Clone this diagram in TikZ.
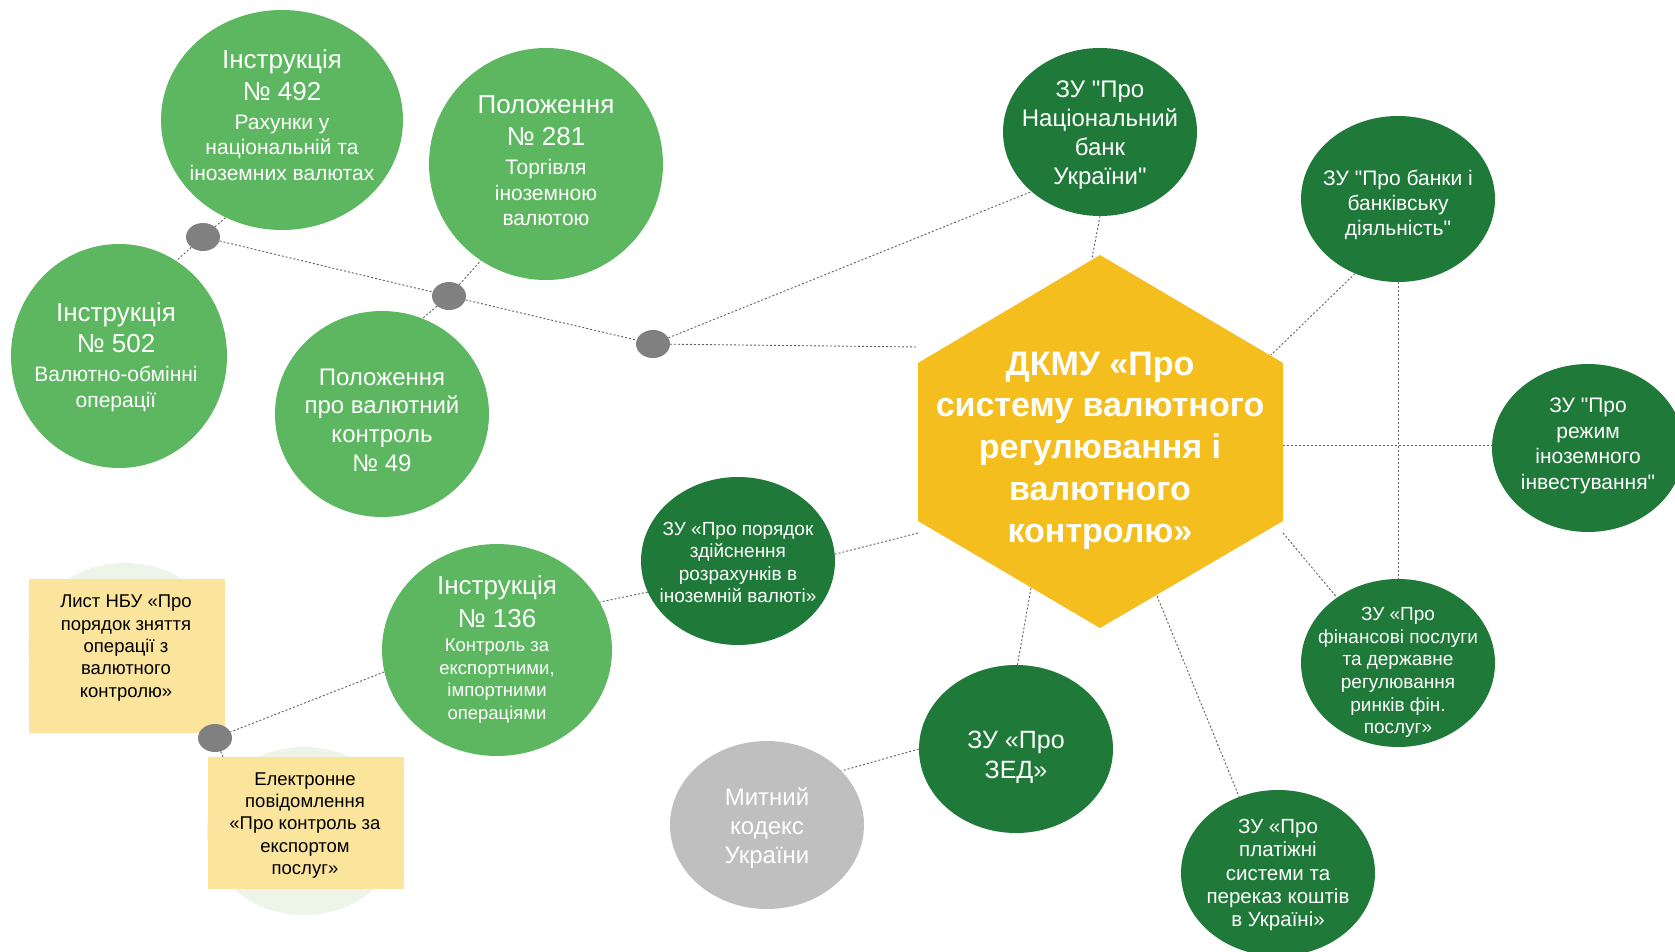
\documentclass[tikz,border=0pt]{standalone}
\usepackage{fontspec}
\setmainfont{Liberation Sans}[Ligatures=TeXOff]
\usetikzlibrary{shapes.geometric}
\definecolor{lgreen}{RGB}{93,183,96}
\definecolor{dgreen}{RGB}{31,121,57}
\definecolor{hexyellow}{RGB}{245,190,31}
\definecolor{noteyellow}{RGB}{251,228,156}
\definecolor{dotgrey}{RGB}{128,128,128}
\definecolor{kodgrey}{RGB}{191,191,191}
\definecolor{faintgreen}{RGB}{237,245,233}
\definecolor{linegrey}{RGB}{95,95,95}
\pgfdeclarelayer{back}
\pgfdeclarelayer{bg}
\pgfsetlayers{back,bg,main}
\begin{document}
\begin{tikzpicture}[x=1pt,y=-1pt,
  blob/.style={ellipse, draw=none, inner sep=0pt},
  lblob/.style={blob, fill=lgreen},
  dblob/.style={blob, fill=dgreen, minimum width=194pt, minimum height=168pt},
  txt/.style={align=center, text=white, inner sep=0pt},
  darktxt/.style={align=center, text=black, inner sep=0pt},
  conn/.style={draw=linegrey, line width=0.9pt, dash pattern=on 2pt off 2pt},
  gdot/.style={ellipse, fill=dotgrey, inner sep=0pt, minimum width=34pt, minimum height=28pt},
  notebox/.style={rectangle, fill=noteyellow, inner sep=0pt},
  faintblob/.style={ellipse, fill=faintgreen, inner sep=0pt, minimum width=194pt, minimum height=168pt}
]
\useasboundingbox (0,0) rectangle (1675,952);
\begin{pgfonlayer}{back}
\fill[white] (0,0) rectangle (1675,952);
\end{pgfonlayer}
\clip (0,0) rectangle (1675,952);

% faint background circles and notes
\node[faintblob] (f1) at (125,647) {};
\node[faintblob] (f2) at (304,831) {};
\node[notebox, minimum width=196pt, minimum height=154pt] (list) at (127,656) {};
\node[notebox, minimum width=196pt, minimum height=132pt] (elbox) at (306,823) {};
\node[darktxt, font=\fontsize{18.5}{22.4}\selectfont] (listt) at (126,648)
  {Лист НБУ «Про\\порядок зняття\\операції з\\валютного\\контролю»};
\node[darktxt, font=\fontsize{18.5}{22.4}\selectfont] (elt) at (305,825.4)
  {Електронне\\повідомлення\\«Про контроль за\\експортом\\послуг»};

% light green ellipses
\node[lblob, minimum width=242pt, minimum height=220pt] (i492) at (282,120) {};
\node[lblob, minimum width=234pt, minimum height=232pt] (p281) at (546,164) {};
\node[lblob, minimum width=216pt, minimum height=224pt] (i502) at (119,356) {};
\node[lblob, minimum width=214pt, minimum height=206pt] (p49) at (382,414) {};
\node[lblob, minimum width=230pt, minimum height=212pt] (i136) at (497,650) {};

\node[txt, font=\fontsize{21}{25.6}\selectfont] (i492t) at (282,115)
  {{\fontsize{26}{31}\selectfont Інструкція}\\[6.4pt]{\fontsize{26}{31}\selectfont № 492}\\[3.2pt]Рахунки у\\національній та\\іноземних валютах};
\node[txt, font=\fontsize{21}{25.6}\selectfont] (p281t) at (546,161)
  {{\fontsize{26}{31}\selectfont Положення}\\[6.4pt]{\fontsize{26}{31}\selectfont № 281}\\[3.2pt]Торгівля\\іноземною\\валютою};
\node[txt, font=\fontsize{21}{26.7}\selectfont] (i502t) at (116,357.5)
  {{\fontsize{26}{31}\selectfont Інструкція}\\[4.3pt]{\fontsize{26}{31}\selectfont № 502}\\[2pt]Валютно-обмінні\\операції};
\node[txt, font=\fontsize{24}{28.6}\selectfont] (p49t) at (382,420)
  {Положення\\про валютний\\контроль\\№ 49};
\node[txt, font=\fontsize{18.5}{22.4}\selectfont] (i136t) at (497,649.5)
  {{\fontsize{26}{31}\selectfont Інструкція}\\[7.6pt]{\fontsize{26}{31}\selectfont № 136}\\[2.3pt]Контроль за\\експортними,\\імпортними\\операціями};

% dark green ellipses
\node[dblob] (nbu) at (1100,132) {};
\node[dblob, minimum height=166pt] (banky) at (1398,199) {};
\node[dblob, minimum width=192pt] (rezhim) at (1588,448) {};
\node[dblob] (fin) at (1398,663) {};
\node[dblob, minimum height=166pt] (plat) at (1278,873) {};
\node[dblob] (zed) at (1016,749) {};
\node[dblob] (poryadok) at (738,561) {};
\node[blob, fill=kodgrey, minimum width=194pt, minimum height=168pt] (mytnyi) at (767,825) {};

\node[txt, font=\fontsize{24}{28.8}\selectfont] (nbut) at (1100,135.2)
  {ЗУ "Про\\Національний\\банк\\України"};
\node[txt, font=\fontsize{21}{25.1}\selectfont] (bankyt) at (1398,205)
  {ЗУ "Про банки і\\банківську\\діяльність"};
\node[txt, font=\fontsize{21}{25.6}\selectfont] (rezhimt) at (1588,445.7)
  {ЗУ "Про\\режим\\іноземного\\інвестування"};
\node[txt, font=\fontsize{19}{22.6}\selectfont] (fint) at (1398,672.6)
  {ЗУ «Про\\фінансові послуги\\та державне\\регулювання\\ринків фін.\\послуг»};
\node[txt, font=\fontsize{20.5}{23.2}\selectfont] (platt) at (1278,875)
  {ЗУ «Про\\платіжні\\системи та\\переказ коштів\\в Україні»};
\node[txt, font=\fontsize{25}{30}\selectfont] (zedt) at (1016,757)
  {ЗУ «Про\\ЗЕД»};
\node[txt, font=\fontsize{19}{22.4}\selectfont] (poryadokt) at (738,562.5)
  {ЗУ «Про порядок\\здійснення\\розрахунків в\\іноземній валюті»};
\node[txt, font=\fontsize{24}{28.8}\selectfont] (mytnyit) at (767,828.2)
  {Митний\\кодекс\\України};

% central hexagon
\fill[hexyellow] (1100,255) -- (1283,363) -- (1283,521) -- (1100,628) -- (918,521) -- (918,363) -- cycle;
\node[txt, font=\bfseries\fontsize{34}{41.7}\selectfont] (hex) at (1100,450.5)
  {ДКМУ «Про\\систему валютного\\регулювання і\\валютного\\контролю»};
\coordinate (hexL) at (918,347);
\coordinate (hexT) at (1092,258);
\coordinate (hexUR) at (1271,355);
\coordinate (hexR) at (1283,445);
\coordinate (hexLR) at (1283,533);
\coordinate (hexB1) at (1157,596);
\coordinate (hexB2) at (1031,588);
\coordinate (hexLL) at (918,533);
\coordinate (elTop) at (223,757);

% grey junction dots
\node[gdot] (dot1) at (203,237) {};
\node[gdot] (dot2) at (449,296) {};
\node[gdot] (dot3) at (653,344) {};
\node[gdot] (dot4) at (215,738) {};

% connectors
\begin{pgfonlayer}{bg}
\draw[conn] (dot1) -- (i492.240);
\draw[conn] (dot1) -- (i502.59);
\draw[conn] (dot1) -- (dot2);
\draw[conn] (dot2) -- (p281.236);
\draw[conn] (dot2) -- (p49.67);
\draw[conn] (dot2) -- (dot3);
\draw[conn] (dot3) -- (nbu.221);
\draw[conn] (dot3) -- (hexL);
\draw[conn] (nbu.270) -- (hexT);
\draw[conn] (banky.240) -- (hexUR);
\draw[conn] (banky.270) -- (fin.90);
\draw[conn] (hexR) -- (hexR -| rezhim.west);
\draw[conn] (hexLR) -- (fin.133);
\draw[conn] (hexB1) -- (plat.117);
\draw[conn] (hexB2) -- (zed.89);
\draw[conn] (hexLL) -- (poryadok.4);
\draw[conn] (zed.180) -- (mytnyi.36);
\draw[conn] (poryadok.199) -- (i136.25);
\draw[conn] (i136.191) -- (dot4);
\draw[conn] (dot4) -- (elTop);
\end{pgfonlayer}
\end{tikzpicture}
\end{document}
